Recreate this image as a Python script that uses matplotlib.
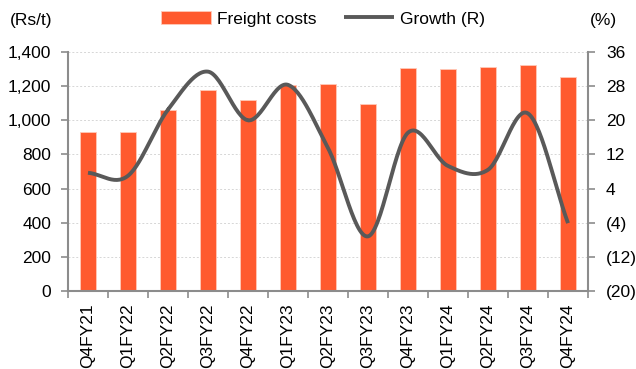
import numpy as np
import matplotlib
matplotlib.use("Agg")
import matplotlib.pyplot as plt

categories = ["Q4FY21", "Q1FY22", "Q2FY22", "Q3FY22", "Q4FY22", "Q1FY23", "Q2FY23",
              "Q3FY23", "Q4FY23", "Q1FY24", "Q2FY24", "Q3FY24", "Q4FY24"]
freight = [933, 932, 1060, 1180, 1120, 1205, 1210, 1095, 1305, 1302, 1310, 1325, 1255]
growth = [7.7, 7.0, 22.5, 31.4, 20.0, 28.3, 13.5, -7.2, 17.1, 9.3, 8.4, 21.6, -4.1]
left_ticks = [0, 200, 400, 600, 800, 1000, 1200, 1400]
right_ticks = [-20, -12, -4, 4, 12, 20, 28, 36]

plt.rcParams['font.family'] = ['Liberation Sans', 'DejaVu Sans']
FS = 12.5
BAR = '#FF5A2E'
LINE = '#595959'
AX = '#8C8C8C'

fig = plt.figure(figsize=(6.36, 3.69), dpi=100)
ax = fig.add_axes([68/636, 1-291/369, 520/636, 239/369])
x = np.arange(len(categories))
ax.bar(x, freight, width=0.4, color=BAR, edgecolor='#FFC9B8', linewidth=0.6, zorder=2,
       label='Freight costs')
ax.set_xlim(-0.5, len(categories)-0.5)
ax.set_ylim(0, 1400)
ax.set_yticks(left_ticks)
ax.set_yticklabels([f"{v:,}" for v in left_ticks], fontsize=FS)
ax.yaxis.grid(True, color='#D6D6D6', linestyle=(0, (2, 2)), linewidth=0.7, zorder=0)
ax.set_axisbelow(True)
ax.set_xticks(x)
ax.set_xticklabels(categories, rotation=90, fontsize=FS)
ax.set_xticks(np.arange(-0.5, len(categories)), minor=True)
ax.tick_params(axis='x', which='major', length=0, pad=9)
ax.tick_params(axis='x', which='minor', length=5, width=1.2, color=AX, direction='out')
ax.tick_params(axis='y', length=5, width=1.2, color=AX, direction='out', pad=7)
for s in ['top', 'right']:
    ax.spines[s].set_visible(False)
for s in ['left', 'bottom']:
    ax.spines[s].set_color(AX)
    ax.spines[s].set_linewidth(1.5)

ax2 = ax.twinx()
# Catmull-Rom smoothing (Excel-like smoothed line)
g = np.array(growth, dtype=float)
P = np.concatenate([[2*g[0]-g[1]], g, [2*g[-1]-g[-2]]])
Px = np.concatenate([[x[0]-1], x, [x[-1]+1]]).astype(float)
xs, ys = [], []
t = np.linspace(0, 1, 30)
for i in range(1, len(P)-2):
    for arr, out in ((Px, xs), (P, ys)):
        p0, p1, p2, p3 = arr[i-1], arr[i], arr[i+1], arr[i+2]
        out.extend(0.5*((2*p1) + (-p0+p2)*t + (2*p0-5*p1+4*p2-p3)*t**2 + (-p0+3*p1-3*p2+p3)*t**3))
ax2.plot(xs, ys, color=LINE, linewidth=2.8, solid_capstyle='butt', label='Growth (R)', zorder=3)
ax2.set_ylim(-20, 36)
ax2.set_yticks(right_ticks)
ax2.set_yticklabels([f"({-v})" if v < 0 else str(v) for v in right_ticks], fontsize=FS)
ax2.tick_params(axis='y', length=5, width=1.2, color=AX, direction='out', pad=8)
for s in ['top', 'left', 'bottom']:
    ax2.spines[s].set_visible(False)
ax2.spines['right'].set_color(AX)
ax2.spines['right'].set_linewidth(1.5)

fig.text(10/636, 1-20/369, "(Rs/t)", fontsize=FS, va='center', ha='left')
fig.text(590/636, 1-20/369, "(%)", fontsize=FS, va='center', ha='left')

h1, l1 = ax.get_legend_handles_labels()
h2, l2 = ax2.get_legend_handles_labels()
fig.legend(h1+h2, l1+l2, loc='center', bbox_to_anchor=(323/636, 1-19/369), ncol=2,
           frameon=False, fontsize=FS, handlelength=2.85, handleheight=0.7,
           columnspacing=1.6, handletextpad=0.35)

fig.savefig("out.png", dpi=100)
